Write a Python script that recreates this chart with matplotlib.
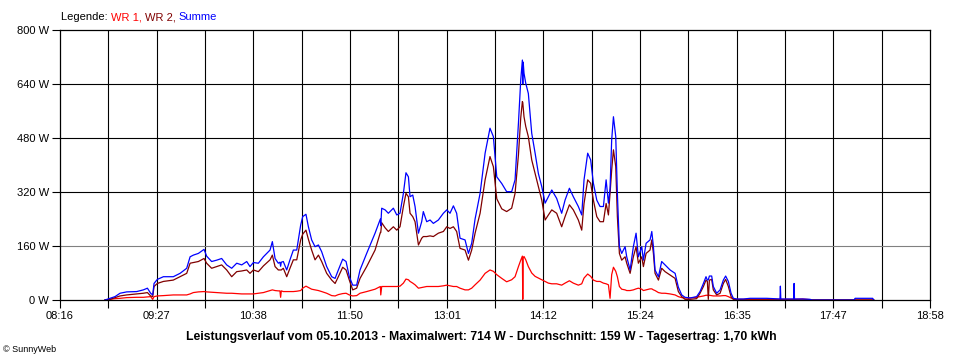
import matplotlib
matplotlib.use("Agg")
import matplotlib.pyplot as plt
import numpy as np

plt.rcParams["font.family"] = ["Liberation Sans", "DejaVu Sans"]

# time of day in minutes after midnight, power in W
minute = [529.2, 532.9, 536.6, 540.3, 545.2, 552.6, 557.5, 560.5, 562.9, 564.4,
          565.4, 567.8, 572.3, 579.6, 584.6, 589.5, 592.0, 594.4, 598.1, 602.3,
          604.2, 607.9, 611.6, 615.3, 619.0, 622.7, 626.4, 630.1, 633.8, 636.2,
          638.7, 642.4, 646.1, 651.0, 652.7, 654.7, 657.1, 658.3, 658.8, 659.3,
          660.8, 663.3, 665.7, 668.2, 670.7, 673.6, 675.1, 677.5, 679.3, 681.7,
          684.2, 686.7, 689.1, 692.8, 696.5, 699.0, 701.4, 704.6, 707.1, 709.5,
          712.0, 714.9, 717.4, 722.3, 728.5, 732.4, 732.7, 733.4, 735.9, 738.3,
          742.0, 744.5, 746.9, 749.4, 751.3, 753.1, 754.3, 756.3, 758.0, 760.5,
          762.9, 764.1, 766.6, 769.1, 771.5, 775.2, 778.9, 781.4, 783.8, 786.3,
          788.7, 791.2, 794.9, 797.4, 799.8, 802.3, 806.0, 809.7, 813.3, 815.8,
          818.3, 822.0, 825.6, 829.3, 831.8, 834.3, 836.0, 837.2, 837.5, 837.8,
          838.4, 839.7, 841.6, 844.1, 846.6, 849.0, 851.5, 854.0, 856.4, 858.9,
          862.5, 866.2, 868.7, 871.9, 874.8, 878.5, 881.0, 882.7, 885.4, 887.6,
          889.6, 892.1, 894.5, 897.0, 899.0, 900.7, 901.9, 903.1, 904.4, 906.1,
          907.3, 908.8, 910.5, 913.0, 914.2, 916.7, 919.1, 921.1, 922.8, 925.3,
          926.5, 928.5, 931.4, 932.7, 933.9, 935.1, 937.6, 940.0, 942.5, 946.2,
          949.9, 952.3, 954.8, 957.2, 961.0, 965.8, 968.3, 970.8, 972.7, 973.7,
          974.4, 975.2, 976.9, 978.1, 980.6, 983.1, 985.5, 987.2, 989.2, 991.2,
          992.9, 995.4, 1000.3, 1005.2, 1017.5, 1027.3, 1027.6, 1027.9, 1037.4, 1037.7,
          1038.0, 1044.0, 1049.5, 1050.7, 1082.0, 1082.7, 1095.7, 1096.5]

wr1 = [0, 2, 4, 5, 7, 8, 8, 9, 10, 2,
       10, 12, 13, 15, 15, 15, 18, 22, 24, 25,
       24, 23, 22, 21, 20, 20, 19, 18, 18, 18,
       18, 20, 22, 28, 30, 28, 27, 27, 8, 27,
       25, 25, 25, 25, 26, 28, 35, 41, 37, 32,
       30, 28, 25, 20, 13, 12, 16, 19, 20, 15,
       12, 13, 20, 25, 32, 40, 15, 40, 40, 40,
       40, 40, 41, 50, 62, 60, 55, 50, 45, 35,
       37, 38, 40, 40, 40, 40, 42, 44, 42, 40,
       40, 35, 30, 30, 35, 45, 59, 79, 89, 85,
       75, 64, 54, 60, 69, 99, 118, 130, 2, 125,
       129, 119, 99, 80, 70, 65, 60, 55, 50, 48,
       48, 44, 50, 57, 50, 44, 48, 65, 77, 70,
       59, 55, 55, 50, 48, 45, 5, 75, 97, 85,
       69, 40, 32, 30, 28, 28, 30, 33, 35, 32,
       28, 30, 33, 33, 30, 28, 22, 20, 20, 18,
       15, 10, 7, 6, 6, 8, 10, 12, 14, 14,
       14, 14, 13, 12, 12, 12, 13, 13, 10, 6,
       3, 2, 2, 2, 2, 2, 2, 2, 2, 2,
       2, 3, 1, 0, 0, 0, 0, 0]

wr2 = [0, 2, 7, 12, 15, 18, 20, 22, 12, 10,
       40, 49, 55, 59, 69, 79, 109, 111, 114, 123,
       109, 94, 99, 104, 89, 69, 84, 86, 89, 79,
       89, 84, 101, 119, 133, 99, 89, 89, 89, 89,
       94, 69, 94, 119, 119, 178, 195, 207, 180, 148,
       119, 133, 114, 79, 59, 49, 69, 97, 89, 59,
       30, 35, 64, 99, 148, 200, 200, 229, 214, 203,
       217, 207, 217, 277, 316, 306, 257, 247, 232, 163,
       183, 188, 188, 190, 188, 198, 203, 217, 212, 217,
       203, 153, 148, 118, 148, 198, 257, 356, 425, 395,
       300, 270, 262, 272, 316, 430, 540, 588, 585, 570,
       543, 514, 484, 415, 375, 336, 296, 237, 252, 267,
       257, 217, 247, 282, 267, 237, 207, 286, 356, 346,
       296, 247, 232, 232, 286, 252, 316, 385, 445, 395,
       247, 138, 118, 128, 109, 79, 128, 158, 109, 128,
       99, 138, 148, 178, 138, 79, 59, 94, 84, 74,
       64, 25, 10, 2, 2, 4, 20, 40, 59, 55,
       2, 59, 61, 30, 15, 20, 49, 61, 40, 10,
       2, 1, 0, 0, 0, 0, 0, 0, 0, 0,
       0, 0, 0, 0, 0, 0, 0, 0]

summe = [0, 5, 10, 20, 24, 25, 30, 35, 20, 15,
         49, 61, 69, 69, 79, 94, 128, 133, 138, 150,
         130, 114, 118, 123, 104, 94, 109, 104, 114, 99,
         111, 109, 128, 148, 173, 123, 109, 112, 100, 112,
         114, 89, 119, 148, 148, 222, 247, 254, 217, 178,
         158, 163, 143, 99, 69, 64, 89, 121, 114, 69,
         44, 44, 89, 138, 198, 240, 220, 272, 267, 257,
         272, 252, 257, 316, 377, 365, 306, 311, 277, 198,
         232, 262, 232, 237, 227, 237, 257, 267, 257, 279,
         257, 183, 178, 138, 168, 240, 316, 435, 509, 484,
         365, 345, 321, 321, 356, 524, 652, 711, 640, 705,
         672, 642, 612, 494, 435, 375, 336, 287, 306, 326,
         301, 257, 296, 331, 306, 277, 252, 356, 435, 415,
         346, 296, 277, 277, 356, 287, 330, 474, 543, 484,
         316, 158, 138, 158, 128, 89, 158, 198, 128, 158,
         118, 168, 178, 203, 158, 89, 69, 114, 104, 89,
         79, 38, 15, 8, 6, 10, 25, 49, 69, 59,
         60, 71, 71, 40, 20, 30, 59, 71, 55, 20,
         5, 3, 3, 5, 5, 3, 41, 3, 3, 49,
         3, 3, 2, 0, 0, 5, 5, 0]

x_labels = ["08:16", "09:27", "10:38", "11:50", "13:01",
            "14:12", "15:24", "16:35", "17:47", "18:58"]
y_values = [0, 160, 320, 480, 640, 800]

t_start, t_end = 496, 1138
step = (t_end - t_start) / 18

fig = plt.figure(figsize=(9.6, 3.6), dpi=100)
ax = fig.add_axes([60 / 960, 60 / 360, 870 / 960, 270 / 360])

# grid
for k in range(1, 18):
    ax.axvline(t_start + k * step, color="black", lw=0.8, zorder=1)
for v in y_values[1:-1]:
    ax.axhline(v, color="#808080" if v == 160 else "black", lw=0.8, zorder=1)

ax.plot(minute, wr1, color="#ff0000", lw=0.9, zorder=3)
ax.plot(minute, wr2, color="#800000", lw=0.9, zorder=4)
ax.plot(minute, summe, color="#0000ff", lw=0.9, zorder=5)

ax.set_xlim(t_start, t_end)
ax.set_ylim(0, 800)
ax.set_xticks([t_start + 2 * k * step for k in range(10)])
ax.set_xticklabels(x_labels)
ax.set_xticks([t_start + (2 * k + 1) * step for k in range(9)], minor=True)
ax.set_yticks(y_values)
ax.set_yticklabels([f"{v} W" for v in y_values])
ax.tick_params(axis="both", which="both", length=5.5, width=0.8,
               labelsize=8, colors="black", pad=2.5)
for s in ax.spines.values():
    s.set_linewidth(0.9)
    s.set_zorder(6)

# legend line on top
renderer = fig.canvas.get_renderer()
parts = [("Legende:\u00a0", "black"), ("WR 1,\u00a0", "#ff0000"),
         ("WR 2,\u00a0", "#800000"), ("Summe", "#0000ff")]
xpos = 61 / 960
for txt, col in parts:
    t = fig.text(xpos, 1 - 17 / 360, txt, color=col, fontsize=8, va="center")
    xpos += t.get_window_extent(renderer).width / fig.bbox.width

fig.text(481 / 960, 1 - 337 / 360,
         "Leistungsverlauf vom 05.10.2013 - Maximalwert: 714 W - "
         "Durchschnitt: 159 W - Tagesertrag: 1,70 kWh",
         ha="center", va="center", fontsize=8.8, fontweight="bold")
fig.text(3 / 960, 1 - 349 / 360, "\u00a9 SunnyWeb", fontsize=6.5, va="center")

fig.savefig("out.png", dpi=100)
